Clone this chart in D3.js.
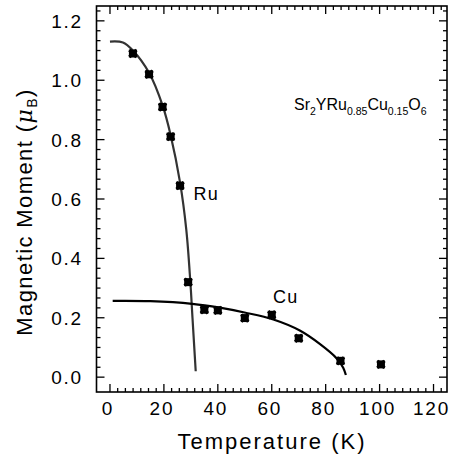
<!DOCTYPE html>
<html>
<head>
<meta charset="UTF-8">
<script src="https://d3js.org/d3.v7.min.js"></script>
<style>
  body { margin: 0; background: #fff; }
  text { font-family: "Liberation Sans", Arial, sans-serif; fill: #000; }
</style>
</head>
<body>
<svg id="chart"></svg>
<script>
// measured points (temperature in K, moment in mu_B)
const ruT = [8.5, 14.5, 19.5, 22.5, 26, 29];
const ruM = [1.09, 1.02, 0.91, 0.81, 0.645, 0.32];
const cuT = [35, 40, 50, 60, 70, 85.5, 100.5];
const cuM = [0.227, 0.225, 0.199, 0.21, 0.131, 0.055, 0.043];

// fitted curves
const ruFitT = [0, 4.8, 8.5, 14.5, 19.5, 22.5, 26, 28.3, 29.8, 30.6, 31.8];
const ruFitM = [1.13, 1.127, 1.1, 1.025, 0.915, 0.815, 0.655, 0.497, 0.322, 0.2, 0.02];
const cuFitT = [1, 15, 30.5, 40.7, 50.3, 60.6, 70.4, 77.8, 84, 86.5, 87.5];
const cuFitM = [0.257, 0.256, 0.247, 0.234, 0.217, 0.194, 0.157, 0.112, 0.064, 0.032, 0.007];

const xTicks = [0, 20, 40, 60, 80, 100, 120];
const yTicks = [0.0, 0.2, 0.4, 0.6, 0.8, 1.0, 1.2];

const width = 457, height = 462;
const margin = {top: 6, right: 10, bottom: 70, left: 96.5};

const svg = d3.select("#chart")
  .attr("width", width)
  .attr("height", height);

const x = d3.scaleLinear()
  .domain([-5, 125])
  .range([margin.left, width - margin.right]);

const y = d3.scaleLinear()
  .domain([-0.05, 1.25])
  .range([height - margin.bottom, margin.top]);

const x0 = x.range()[0], x1 = x.range()[1];
const y0 = y.range()[0], y1 = y.range()[1];

// minor ticks
const xMinor = d3.range(0, 125, 20 / 7).filter(v => !xTicks.some(t => Math.abs(t - v) < 1e-6));
const yMinor = d3.range(0, 1.25, 0.2 / 6).filter(v => !yTicks.some(t => Math.abs(t - v) < 1e-6));

const g = svg.append("g").attr("stroke", "#000").attr("stroke-width", 1.3);

// bottom / top ticks
g.selectAll(".xt").data(xTicks).join("line")
  .attr("x1", d => x(d)).attr("x2", d => x(d))
  .attr("y1", y0).attr("y2", y0 - 8);
g.selectAll(".xtm").data(xMinor).join("line")
  .attr("x1", d => x(d)).attr("x2", d => x(d))
  .attr("y1", y0).attr("y2", y0 - 4);
g.selectAll(".xt2").data(xTicks).join("line")
  .attr("x1", d => x(d)).attr("x2", d => x(d))
  .attr("y1", y1).attr("y2", y1 + 8);
g.selectAll(".xtm2").data(xMinor).join("line")
  .attr("x1", d => x(d)).attr("x2", d => x(d))
  .attr("y1", y1).attr("y2", y1 + 4);

// left / right ticks
g.selectAll(".yt").data(yTicks).join("line")
  .attr("x1", x0).attr("x2", x0 + 8)
  .attr("y1", d => y(d)).attr("y2", d => y(d));
g.selectAll(".ytm").data(yMinor).join("line")
  .attr("x1", x0).attr("x2", x0 + 4)
  .attr("y1", d => y(d)).attr("y2", d => y(d));
g.selectAll(".yt2").data(yTicks).join("line")
  .attr("x1", x1).attr("x2", x1 - 8)
  .attr("y1", d => y(d)).attr("y2", d => y(d));
g.selectAll(".ytm2").data(yMinor).join("line")
  .attr("x1", x1).attr("x2", x1 - 4)
  .attr("y1", d => y(d)).attr("y2", d => y(d));

// frame
svg.append("rect")
  .attr("x", x0).attr("y", y1)
  .attr("width", x1 - x0).attr("height", y0 - y1)
  .attr("fill", "none").attr("stroke", "#000").attr("stroke-width", 1.6);

// tick labels
svg.selectAll(".xl").data(xTicks).join("text")
  .attr("x", d => x(d) - 2).attr("y", 415)
  .attr("text-anchor", "middle")
  .attr("font-size", 19).attr("letter-spacing", 1.8)
  .text(d => d);

svg.selectAll(".yl").data(yTicks).join("text")
  .attr("x", 83).attr("y", d => y(d) + 7)
  .attr("text-anchor", "end")
  .attr("font-size", 19).attr("letter-spacing", 1.8)
  .text(d => d.toFixed(1));

// axis titles
svg.append("text")
  .attr("x", 272).attr("y", 449)
  .attr("text-anchor", "middle")
  .attr("font-size", 22).attr("letter-spacing", 2)
  .text("Temperature (K)");

const yt = svg.append("text")
  .attr("transform", "translate(32,212) rotate(-90)")
  .attr("text-anchor", "middle")
  .attr("font-size", 22).attr("letter-spacing", 1.4);
yt.append("tspan").text("Magnetic Moment (");
yt.append("tspan").attr("font-family", "DejaVu Serif").attr("font-style", "italic").text("\u03bc");
yt.append("tspan").attr("font-size", 14).attr("dy", 5).text("B");
yt.append("tspan").attr("dy", -5).text(")");

// compound label
const comp = svg.append("text")
  .attr("x", 294).attr("y", 110)
  .attr("font-size", 16);
const parts = [["Sr", "2"], ["YRu", "0.85"], ["Cu", "0.15"], ["O", "6"]];
parts.forEach(([a, b], i) => {
  comp.append("tspan").attr("dy", i === 0 ? 0 : -5).text(a);
  comp.append("tspan").attr("font-size", 10.5).attr("dy", 5).text(b);
});

svg.append("text").attr("x", x(31)).attr("y", 200)
  .attr("font-size", 18).attr("letter-spacing", 1.2).text("Ru");
svg.append("text").attr("x", x(60.5)).attr("y", 303)
  .attr("font-size", 18).attr("letter-spacing", 1.2).text("Cu");

// fit curves
const line = d3.line().x(d => x(d[0])).y(d => y(d[1])).curve(d3.curveCatmullRom.alpha(0.5));

svg.append("path")
  .datum(d3.zip(ruFitT, ruFitM))
  .attr("d", line)
  .attr("fill", "none").attr("stroke", "#333").attr("stroke-width", 2.2);

svg.append("path")
  .datum(d3.zip(cuFitT, cuFitM))
  .attr("d", line)
  .attr("fill", "none").attr("stroke", "#000").attr("stroke-width", 2.2);

// data markers
const pts = d3.zip(ruT, ruM).concat(d3.zip(cuT, cuM));
svg.selectAll(".pt").data(pts).join("path")
  .attr("transform", d => `translate(${x(d[0])},${y(d[1])})`)
  .attr("d", d3.symbol().type(d3.symbolSquare).size(64))
  .attr("fill", "#000");
svg.selectAll(".px").data(pts).join("path")
  .attr("transform", d => `translate(${x(d[0])},${y(d[1])}) rotate(45)`)
  .attr("d", d3.symbol().type(d3.symbolCross).size(55))
  .attr("fill", "#000");
</script>
</body>
</html>
